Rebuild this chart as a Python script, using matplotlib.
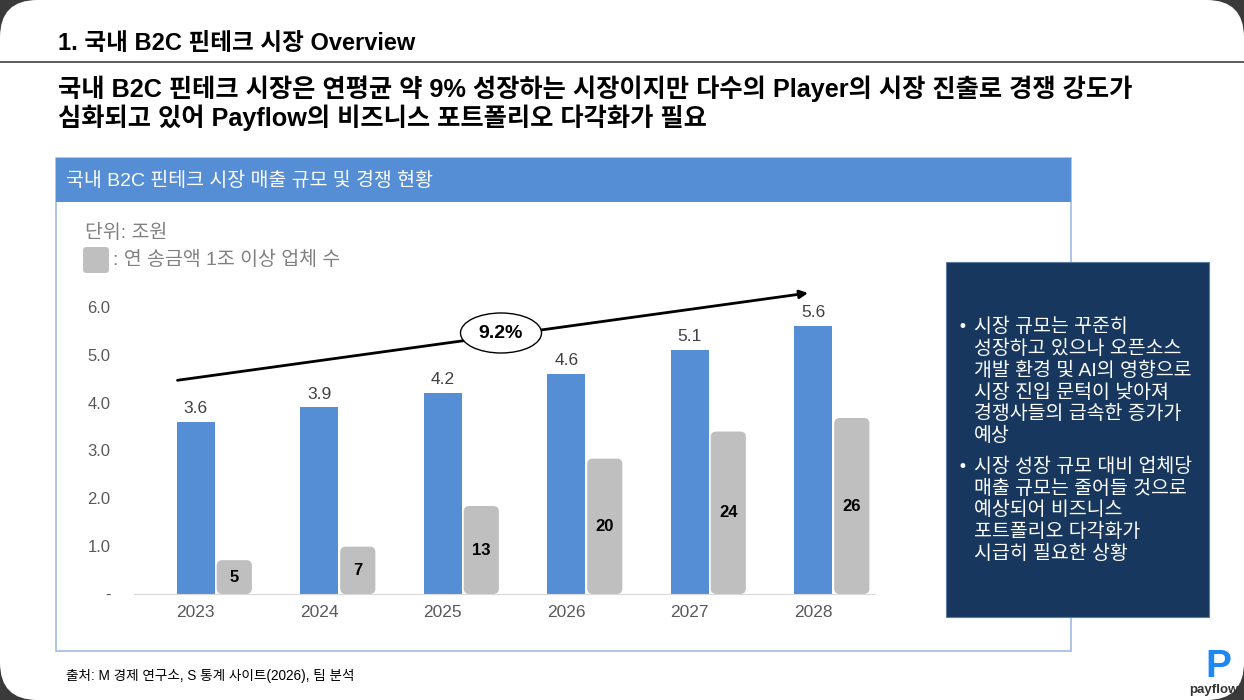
import matplotlib
matplotlib.use("Agg")
import matplotlib.pyplot as plt
from matplotlib.patches import FancyBboxPatch, Rectangle, Ellipse
import numpy as np

# data
years = ["2023", "2024", "2025", "2026", "2027", "2028"]
market_size = [3.6, 3.9, 4.2, 4.6, 5.1, 5.6]      # 조원
big_players = [5, 7, 13, 20, 24, 26]              # 연 송금액 1조 이상 업체 수
ytick_vals = [0, 1, 2, 3, 4, 5, 6]
ytick_labels = ["-", "1.0", "2.0", "3.0", "4.0", "5.0", "6.0"]
cagr_label = "9.2%"

title = "1. 국내 B2C 핀테크 시장 Overview"
headline = ["국내 B2C 핀테크 시장은 연평균 약 9% 성장하는 시장이지만 다수의 Player의 시장 진출로 경쟁 강도가",
            "심화되고 있어 Payflow의 비즈니스 포트폴리오 다각화가 필요"]
panel_title = "국내 B2C 핀테크 시장 매출 규모 및 경쟁 현황"
unit_text = "단위: 조원"
legend_text = ": 연 송금액 1조 이상 업체 수"
bullets = [
    ["시장 규모는 꾸준히", "성장하고 있으나 오픈소스", "개발 환경 및 AI의 영향으로",
     "시장 진입 문턱이 낮아져", "경쟁사들의 급속한 증가가", "예상"],
    ["시장 성장 규모 대비 업체당", "매출 규모는 줄어들 것으로", "예상되어 비즈니스",
     "포트폴리오 다각화가", "시급히 필요한 상황"],
]
source = "출처: M 경제 연구소, S 통계 사이트(2026), 팀 분석"

KR = ["Liberation Sans", "Noto Sans CJK KR"]
BLUE = "#558ed5"
GRAY = "#bfbfbf"
NAVY = "#17375e"

W, H = 1244, 700
fig = plt.figure(figsize=(W / 100, H / 100), dpi=100)
fig.patch.set_facecolor("#3a3a3a")


def fx(px):
    return px / W


def fy(py):
    return 1 - py / H


# white slide with rounded corners
fig.patches.append(FancyBboxPatch((0, 0), 1, 1, boxstyle="round,pad=0,rounding_size=0.03",
                                  mutation_aspect=W / H, transform=fig.transFigure,
                                  facecolor="white", edgecolor="none", zorder=0))

fig.text(fx(58), fy(43), title, fontsize=17, fontweight="bold", family=KR,
         va="center", ha="left")
fig.add_artist(plt.Line2D([0, 1], [fy(62), fy(62)], color="#404040", lw=1.2,
                          transform=fig.transFigure))
for i, line in enumerate(headline):
    fig.text(fx(58), fy(89 + i * 29), line, fontsize=18.2, fontweight="bold", family=KR,
             va="center", ha="left")

# chart panel
fig.patches.append(Rectangle((fx(56), fy(651)), fx(1071 - 56), (651 - 158) / H,
                             transform=fig.transFigure, facecolor="white",
                             edgecolor="#9dbbe6", lw=1.2, zorder=1))
fig.patches.append(Rectangle((fx(56), fy(202)), fx(1071 - 56), (202 - 158) / H,
                             transform=fig.transFigure, facecolor=BLUE,
                             edgecolor="none", zorder=2))
fig.text(fx(66), fy(181), panel_title, fontsize=14, color="white", family=KR,
         fontweight="medium", va="center", ha="left", zorder=3)
fig.text(fx(85), fy(233), unit_text, fontsize=14, color="#808080", family=KR,
         va="center", ha="left")
fig.patches.append(FancyBboxPatch((fx(83), fy(273)), fx(26), 26 / H,
                                  boxstyle="round,pad=0,rounding_size=0.003",
                                  mutation_aspect=W / H, transform=fig.transFigure,
                                  facecolor=GRAY, edgecolor="none", zorder=3))
fig.text(fx(113), fy(260), legend_text, fontsize=14, color="#808080", family=KR,
         va="center", ha="left")

# axes
ax = fig.add_axes([fx(134), fy(594), fx(875 - 134), (594 - 307) / H])
ax.set_zorder(3)
ax.set_facecolor("none")
ax2 = ax.twinx()
ax2.set_zorder(3.5)
x = np.arange(len(years))
bw_blue = 0.31
bw_gray = 0.285
off_gray = 0.312

ax.bar(x, market_size, width=bw_blue, color=BLUE, edgecolor="none", zorder=2)
for xi, v in zip(x, market_size):
    ax.text(xi, v + 0.12, f"{v:.1f}", ha="center", va="bottom", fontsize=12.5,
            color="#404040", family=KR)

ax.set_xlim(-0.5, 5.5)
ax.set_ylim(0, 6)
ax.set_yticks(ytick_vals)
ax.set_yticklabels(ytick_labels, fontsize=12, color="#595959", family=KR)
ax.set_xticks(x)
ax.set_xticklabels(years, fontsize=12.5, color="#595959", family=KR)
ax.tick_params(length=0)
ax.tick_params(axis="y", pad=17)
ax.tick_params(axis="x", pad=8)
for s in ["top", "right", "left"]:
    ax.spines[s].set_visible(False)
ax.spines["bottom"].set_color("#d9d9d9")

ax2.set_ylim(0, 42.4)
ax2.axis("off")
fig.canvas.draw()
p0 = ax2.transData.transform((0, 0))
p1 = ax2.transData.transform((1, 1))
aspect = (p1[0] - p0[0]) / (p1[1] - p0[1])
for xi, v in zip(x, big_players):
    ax2.add_patch(FancyBboxPatch((xi + off_gray - bw_gray / 2, 0), bw_gray, v,
                                 boxstyle="round,pad=0,rounding_size=0.045",
                                 mutation_aspect=aspect, facecolor=GRAY,
                                 edgecolor="none", zorder=2))
    ax2.text(xi + off_gray, v / 2, str(v), ha="center", va="center", fontsize=12,
             fontweight="bold", color="black", family=KR)

# CAGR arrow
ax.annotate("", xy=(4.98, 6.30), xytext=(-0.17, 4.46),
            arrowprops=dict(arrowstyle="-|>", color="black", lw=2, mutation_scale=12),
            annotation_clip=False)
fig.patches.append(Ellipse((fx(501), fy(333)), fx(81), 40 / H, transform=fig.transFigure,
                           facecolor="white", edgecolor="black", lw=1.0, zorder=5))
fig.text(fx(501), fy(333), cagr_label, fontsize=14, fontweight="bold", family=KR,
         ha="center", va="center", zorder=6)

# right insight box
fig.patches.append(Rectangle((fx(946), fy(617)), fx(1209 - 946), (617 - 262) / H,
                             transform=fig.transFigure, facecolor=NAVY,
                             edgecolor="#5a7aa0", lw=0.8, zorder=4))
yy = 327
for block in bullets:
    fig.text(fx(958), fy(yy), "•", fontsize=12, color="white", va="center",
             ha="left", zorder=5)
    for line in block:
        fig.text(fx(974), fy(yy), line, fontsize=14, color="white", family=KR,
                 va="center", ha="left", zorder=5)
        yy += 21.8
    yy += 9

fig.text(fx(66), fy(676), source, fontsize=9.8, color="black", family=KR,
         va="center", ha="left")

# logo
fig.text(fx(1218), fy(667), "P", fontsize=28, fontweight="bold", color="#1e88f5",
         family=KR, ha="center", va="center", zorder=6)
fig.text(fx(1214), fy(690), "payflow", fontsize=9.5, fontweight="bold", color="#333333",
         family=KR, ha="center", va="center", zorder=6)

fig.savefig("out.png", dpi=100, facecolor=fig.get_facecolor())
